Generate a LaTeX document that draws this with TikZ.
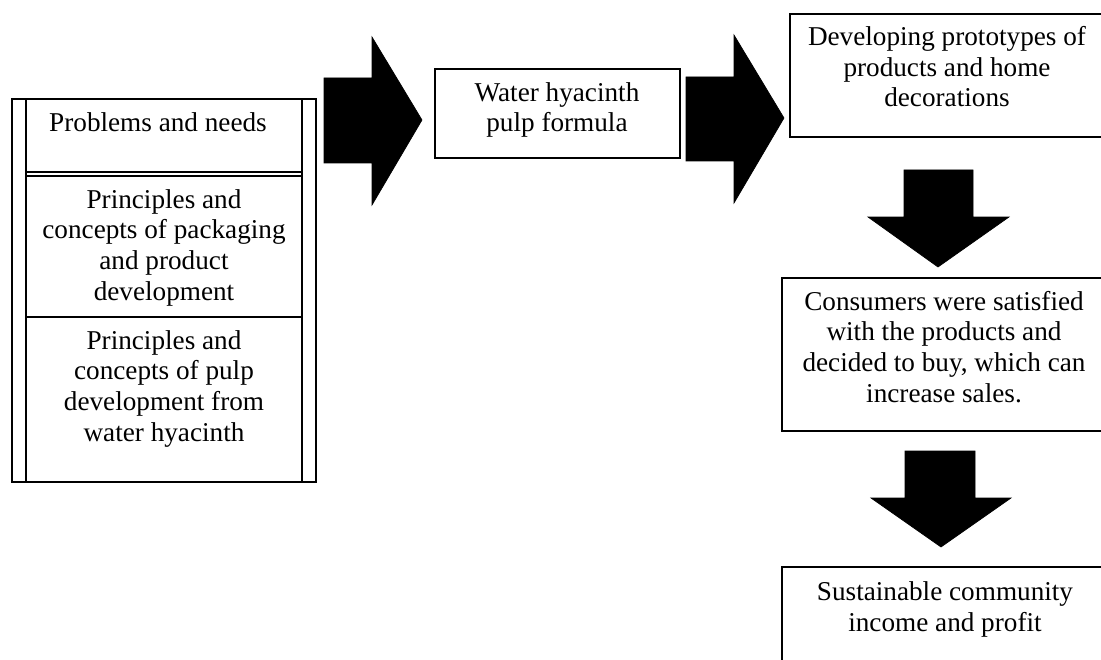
\documentclass[tikz,border=0pt]{standalone}
\usepackage{fontspec}
\setmainfont{Liberation Serif}
\tikzset{
  txt/.style={align=center, inner sep=0pt, anchor=base, font=\fontsize{20.4}{22.9}\selectfont},
  frame/.style={line width=1pt},
  blk/.style={fill=black, draw=black, line width=0.5pt}
}
\begin{document}
\begin{tikzpicture}[x=0.75pt,y=-0.75pt]
    \useasboundingbox (0,0) rectangle (1101,660);

    % Left column
    \draw[frame] (12,99) rectangle (316,482);
    \draw[frame] (26,99) -- (26,482);
    \draw[frame] (302,99) -- (302,482);
    \draw[frame] (26,172) -- (302,172);
    \draw[frame] (26,176) -- (302,176);
    \draw[frame] (26,317) -- (302,317);

    % (base = last line)
    \node[txt] (needs) at (158,132) {Problems and needs};
    \node[txt] (packaging) at (164,300) {Principles and\\concepts of packaging\\and product\\development};
    \node[txt] (pulp) at (164,441) {Principles and\\concepts of pulp\\development from\\water hyacinth};

    % Formula
    \draw[frame] (435,69) rectangle (680,158);
    \node[txt] (formula) at (557,132) {Water hyacinth\\pulp formula};

    % Right column
    \draw[frame] (790,14) rectangle (1106,137);
    \node[txt] (prototypes) at (947,107) {Developing prototypes of\\products and home\\decorations};
    \draw[frame] (782,278) rectangle (1106,431);
    \node[txt] (consumers) at (944,402) {Consumers were satisfied\\with the products and\\decided to buy, which can\\increase sales.};
    \draw[frame] (782,567) rectangle (1106,680);
    \node[txt] (income) at (945,631) {Sustainable community\\income and profit};

    % Block arrows
    \fill[blk] (324,78) -- (372,78) -- (372,37) -- (422,120) -- (372,205) -- (372,163) -- (324,163) -- cycle;
    \fill[blk] (686,77) -- (734,77) -- (734,35) -- (784,118) -- (734,203) -- (734,161) -- (686,161) -- cycle;
    \fill[blk] (904,170) -- (973,170) -- (973,217) -- (1009,217) -- (938,267) -- (868,217) -- (904,217) -- cycle;
    \fill[blk] (905,451) -- (975,451) -- (975,498) -- (1011,498) -- (941,547) -- (871,498) -- (905,498) -- cycle;
\end{tikzpicture}
\end{document}
